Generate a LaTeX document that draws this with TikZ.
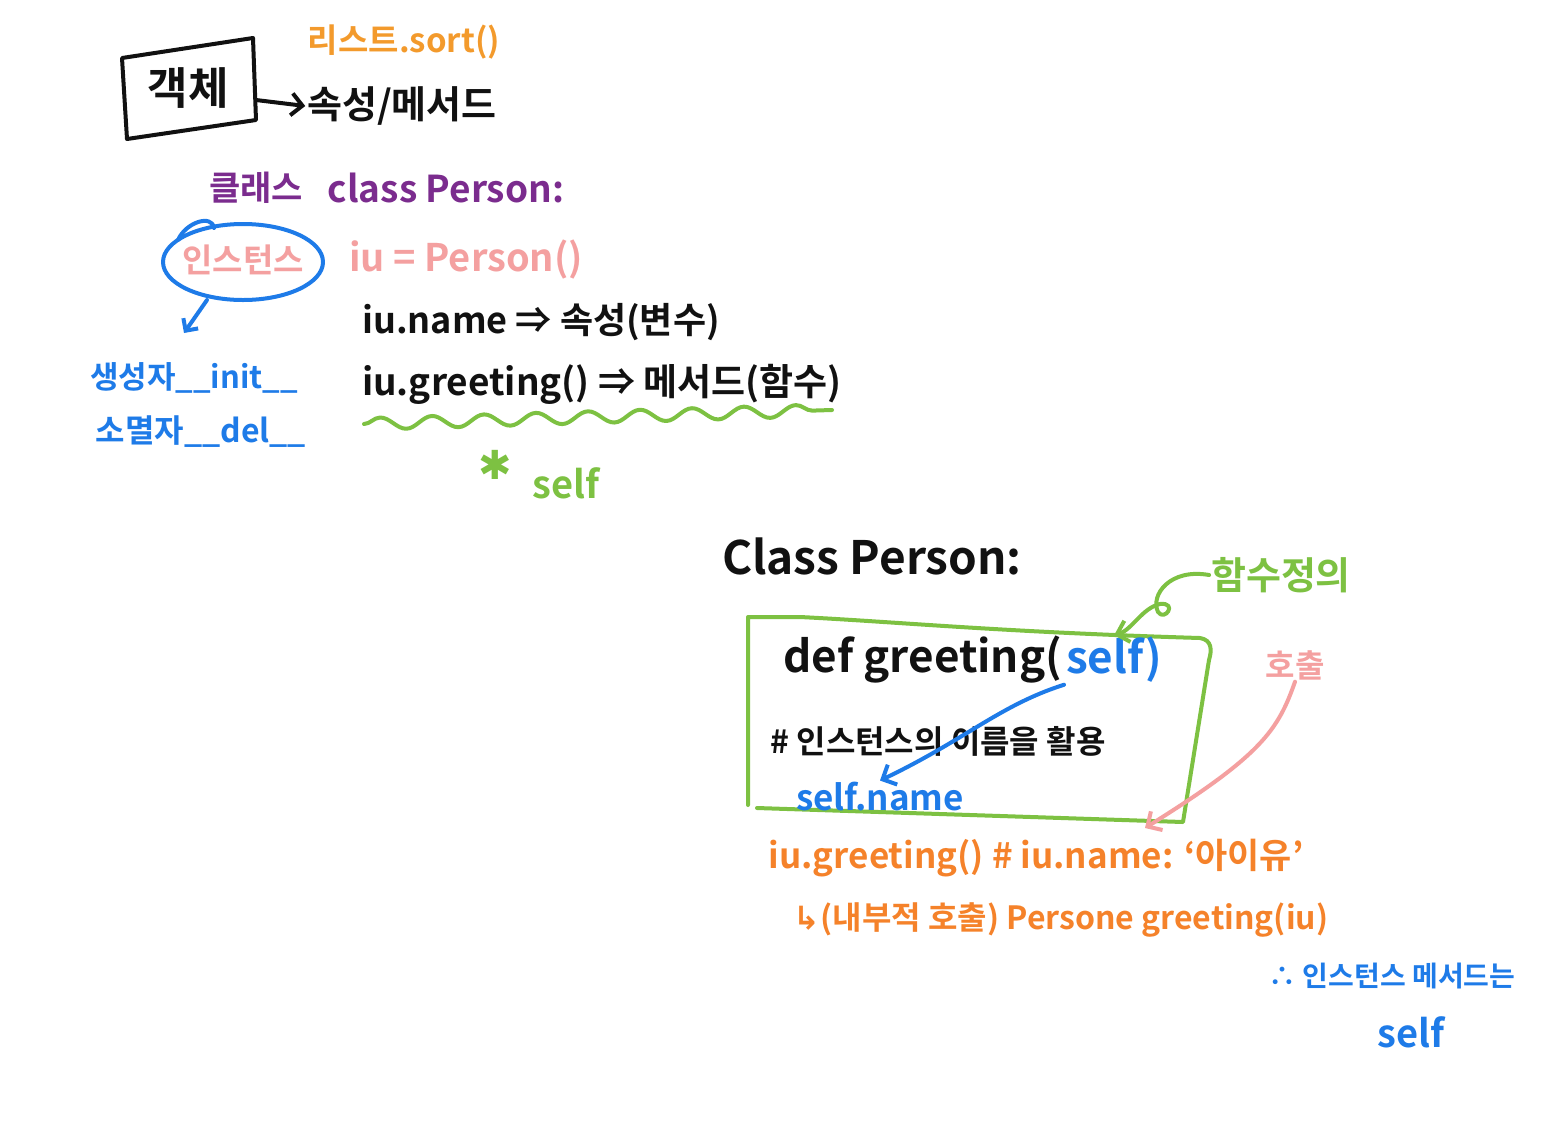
\documentclass[tikz,border=0pt]{standalone}
\usepackage{fontspec}
\setmainfont{Noto Sans CJK KR}[BoldFont={Noto Sans CJK KR Bold}]
\newfontfamily\dvfont{DejaVu Sans}[BoldFont={DejaVu Sans Bold}]
\usetikzlibrary{arrows.meta,decorations.pathmorphing}
\newcommand\myfs[1]{\fontsize{#1}{#1}\selectfont}
\definecolor{cblack}{HTML}{111111}
\definecolor{corange}{HTML}{F39A2C}
\definecolor{corange2}{HTML}{F5822A}
\definecolor{cpurple}{HTML}{7B2C8E}
\definecolor{cpink}{HTML}{F4A0A0}
\definecolor{cblue}{HTML}{1E7BE8}
\definecolor{cgreen}{HTML}{7DC142}
\tikzset{
  txt/.style={inner sep=0pt, outer sep=2pt, font=\bfseries},
  pen/.style={line width=4pt, line cap=round, line join=round},
  handarrow/.style={pen, -{Straight Barb[length=11pt,width=22pt,line width=4pt]}},
}
\begin{document}
\begin{tikzpicture}[x=1pt,y=-1pt]
\path[use as bounding box, fill=white] (0,0) rectangle (1542,1128);

% --- top left: object box
\node[txt, cblack] (obj) at (188,88) {\myfs{44}객체};
\draw[pen, cblack] (122,58) -- (253,38) -- (256,120) -- (127,139) -- cycle;
\coordinate (objR) at (256,100);
\node[txt, corange] (sortN) at (404,42) {\myfs{33}리스트.sort()};
\node[txt, cblack] (attr) at (402,106) {\myfs{38}속성/메서드};
\draw[handarrow, cblack] (objR) -- (attr.west);

% --- class / instance
\node[txt, cpurple] (cls) at (256,188) {\myfs{34}클래스};
\node[txt, cpurple] (clsP) at (446,188) {\myfs{37}class Person:};
\node[txt, cpink] (inst) at (243,260) {\myfs{33}인스턴스};
\draw[pen, cblue] (243,262) ellipse [x radius=80, y radius=38];
\draw[pen, cblue] (178,240) .. controls (186,222) and (212,214) .. (214,228);
\node[txt, cpink] (iuP) at (466,260) {\myfs{38}iu = Person()};
\node[txt, cblue] (init) at (194,378) {\myfs{31}생성자\_\_init\_\_};
\node[txt, cblue] (del) at (201,432) {\myfs{32}소멸자\_\_del\_\_};
\coordinate (ellB) at (207,300);
\draw[handarrow, cblue, -{Straight Barb[length=9pt,width=18pt,line width=4pt]}] (ellB) -- (184,333);

\node[txt, cblack] (iuname) at (541,322) {\myfs{36}iu.name ⇒ 속성(변수)};
\node[txt, cblack] (iugreet) at (602,384) {\myfs{37}iu.greeting() ⇒ 메서드(함수)};
\draw[pen, cgreen, decorate, decoration={snake, amplitude=6pt, segment length=52pt}] (364,424) -- (832,410);
\node[txt, cgreen] (star) at (495,465) {\dvfont\myfs{40}✱};
\node[txt, cgreen] (selfG) at (566,483) {\myfs{38}self};

% --- right: class Person
\node[txt, cblack] (classBig) at (872,556) {\myfs{46}Class Person:};
\draw[pen, cgreen] (748,805) -- (748,617) -- (800,617) .. controls (900,622) and (1000,632) .. (1200,638)
  .. controls (1212,640) and (1212,650) .. (1209,660) -- (1183,822) -- (757,808);
\node[txt, cblack, anchor=east] (defN) at (1064,660) {\myfs{44}def greeting(};
\node[txt, cblue, anchor=west] (selfA) at (1064,660) {\myfs{44}self)};
\node[txt, cblack] (comment) at (938,741) {\myfs{32}\# 인스턴스의 이름을 활용};
\node[txt, cblue] (selfname) at (880,797) {\myfs{35}self.name};
\draw[handarrow, cblue] (selfA.south west) .. controls (1000,705) and (965,740) .. (selfname.north);

\node[txt, cgreen] (hamsu) at (1281,575) {\myfs{38}함수정의};
\draw[handarrow, cgreen] (hamsu.west) .. controls (1170,568) and (1150,595) .. (1158,612)
  .. controls (1165,622) and (1178,602) .. (1160,604) .. controls (1142,608) and (1132,630) .. (selfA.north);
\node[txt, cpink] (hochul) at (1295,665) {\myfs{32}호출};
\coordinate (boxBR) at (1145,828);
\draw[handarrow, cpink] (hochul.south) .. controls (1278,730) and (1262,755) .. (boxBR);

% --- orange lines
\node[txt, corange2] (call1) at (1036,858) {\myfs{35}iu.greeting() \# iu.name: ‘아이유’};
\node[txt, corange2] (call2) at (1061,920) {\myfs{32}{\dvfont ↳}(내부적 호출) Persone greeting(iu)};
\node[txt, cblue] (thus) at (1392,976) {\myfs{28}∴ 인스턴스 메서드는};
\node[txt, cblue] (selfB) at (1411,1032) {\myfs{38}self};
\end{tikzpicture}
\end{document}
